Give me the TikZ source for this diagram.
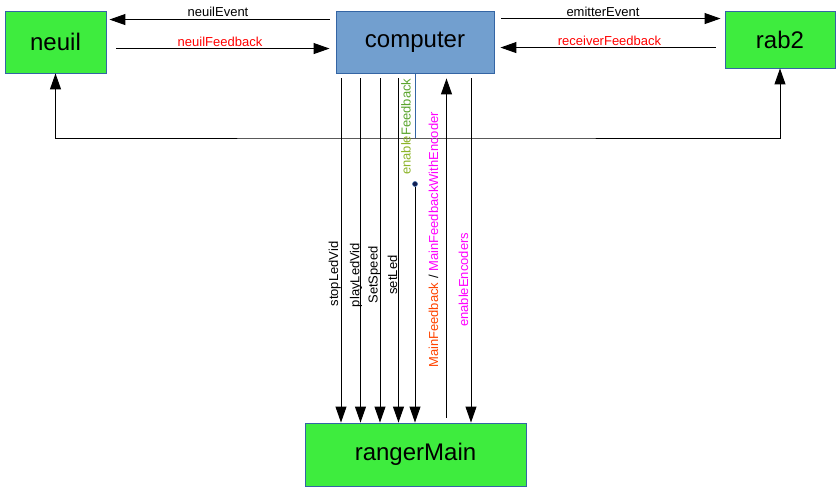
\documentclass[tikz,border=0pt]{standalone}
\usepackage{fontspec}
\setmainfont{Liberation Sans}
\usetikzlibrary{arrows.meta,calc}
\definecolor{boxgreen}{RGB}{62,236,62}
\definecolor{boxblue}{RGB}{114,159,207}
\definecolor{edgeblue}{RGB}{52,101,164}
\definecolor{fbred}{RGB}{255,0,0}
\definecolor{mag}{RGB}{255,0,255}
\definecolor{orred}{RGB}{255,69,0}
\definecolor{oliveA}{RGB}{140,180,40}
\definecolor{greenA}{RGB}{90,165,45}
\definecolor{dotnavy}{RGB}{20,30,80}
\begin{document}
\begin{tikzpicture}[x=1pt,y=-1pt,
  box/.style={draw=edgeblue,line width=0.9pt,inner sep=0pt,font=\fontsize{24}{28}\selectfont},
  arr/.style={line width=1pt,-{Triangle[length=16pt,width=11pt]}},
  dbl/.style={line width=1pt,{Triangle[length=16pt,width=11pt]}-{Triangle[length=16pt,width=11pt]}},
  lbl/.style={font=\fontsize{13}{15}\selectfont,inner sep=0pt}]
\fill[white] (0,0) rectangle (839,495);
\useasboundingbox (0,0) rectangle (839,495);

% boxes
\node[box,fill=boxgreen,minimum width=101pt,minimum height=62pt] (neuil) at (55.5,42) {neuil};
\node[box,fill=boxblue,minimum width=158pt,minimum height=62pt] (computer) at (415,42) {computer};
\node[box,fill=boxgreen,minimum width=110pt,minimum height=57pt] (rab2) at (780,39.5) {rab2};
\node[box,fill=boxgreen,minimum width=221pt,minimum height=63pt] (rangerMain) at (415.5,454.5) {rangerMain};

% horizontal connectors
\draw[arr] ($(computer.north west)+(-6,9)$) -- ($(neuil.north east)+(3,9)$);
\node[lbl,anchor=base] at (218,17) {neuilEvent};
\draw[arr] ($(neuil.north east)+(10,38)$) -- ($(computer.north west)+(-6,38)$);
\node[lbl,anchor=base,text=fbred] at (220,47) {neuilFeedback};
\draw[arr] ($(computer.north east)+(7,8)$) -- ($(rab2.north west)+(-4,8)$);
\node[lbl,anchor=base] at (603,17) {emitterEvent};
\draw[arr] ($(rab2.north west)+(-9,37)$) -- ($(computer.north east)+(6,37)$);
\node[lbl,anchor=base,text=fbred] at (609.5,46) {receiverFeedback};

% loop between neuil and rab2
\coordinate (loopy) at (415,138);
\draw[dbl] (neuil.south) |- (loopy) -| (rab2.south);
\draw[edgeblue,line width=0.8pt] (computer.south) -- (loopy);

% vertical connectors
\coordinate (xa) at (341,0);
\coordinate (xb) at (360.5,0);
\coordinate (xc) at (380,0);
\coordinate (xd) at (398.5,0);
\coordinate (xf) at (446.5,0);
\coordinate (xg) at (471,0);
\foreach \c in {xa,xb,xc,xd,xg}
  \draw[arr,shorten <=5pt] (\c |- computer.south) -- (\c |- rangerMain.north);
\draw[arr,shorten <=5pt,shorten >=5pt] (xf |- rangerMain.north) -- (xf |- computer.south);

\node[circle,fill=dotnavy,draw=edgeblue,line width=0.5pt,inner sep=0pt,minimum size=5pt] (dot) at (415,184) {};
\draw[arr] (dot) -- (dot |- rangerMain.north);

% vertical labels
\node[lbl,rotate=90,anchor=base] at (338,274) {stopLedVid};
\node[lbl,rotate=90,anchor=base] at (359.3,275) {playLedVid};
\node[lbl,rotate=90,anchor=base] at (377.6,275) {SetSpeed};
\node[lbl,rotate=90,anchor=base] at (397,275) {setLed};
\node[lbl,rotate=90,anchor=base west] at (410.5,175) {\textcolor{oliveA}{enable}\textcolor{greenA}{Feedback}};
\node[lbl,rotate=90,anchor=base west] at (438,368) {\textcolor{orred}{MainFeedback} / \textcolor{mag}{MainFeedbackWithEncoder}};
\node[lbl,rotate=90,anchor=base west,text=mag] at (468,327) {enableEncoders};
\end{tikzpicture}
\end{document}
